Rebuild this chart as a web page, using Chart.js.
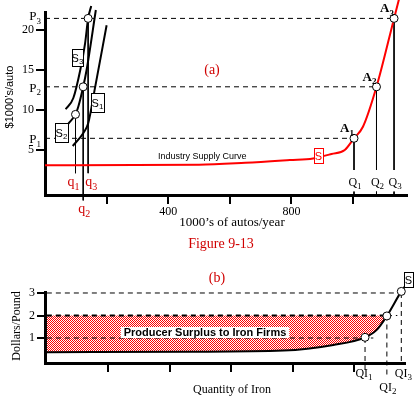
<!DOCTYPE html>
<html>
<head>
<meta charset="utf-8">
<script src="https://cdn.jsdelivr.net/npm/chart.js@4/dist/chart.umd.min.js"></script>
<style>
  html, body { margin: 0; padding: 0; background: #fff; }
  #wrap { position: relative; width: 417px; height: 399px; overflow: hidden; }
  canvas { position: absolute; left: 0; }
  #autos { top: 0; }
  #iron { top: 250px; }
</style>
</head>
<body>
<div id="wrap">
  <canvas id="autos" width="417" height="260"></canvas>
  <canvas id="iron" width="417" height="149"></canvas>
</div>
<script>
// (a) mercado de autos: curva de oferta de la industria y de la empresa
const industryQ = [0, 500, 650, 795, 870, 930, 973, 1003, 1032, 1076, 1133, 1150];
const industryP = [3.1, 3.15, 3.4, 3.75, 3.95, 4.5, 5.0, 6.46, 7.9, 12.9, 21.45, 24];
const firmS1Q = [90, 124, 140, 162, 200];
const firmS1P = [5.5, 7.1, 8.3, 12.7, 20.6];
const firmS2Q = [76, 99, 108, 124, 135, 165];
const firmS2P = [8.3, 9.45, 10.4, 12.9, 15, 22.5];
const firmS3Q = [67, 92, 115, 130, 140, 150];
const firmS3P = [10.1, 11.5, 15.1, 18.3, 21.45, 23.0];
const prices = [6.46, 12.9, 21.45];        // P1, P2, P3
const industryOut = [1003, 1076, 1133];    // Q1, Q2, Q3
const firmOut = [99, 124, 140];            // q1, q2, q3
const firmOutP = [9.45, 12.9, 21.45];
const autoTicks = [200, 400, 600, 800, 1000];
const autoTickLabels = ['', '400', '', '800', ''];
const priceTicks = [5, 10, 15, 20];

// (b) mercado del hierro
const ironQ = [0, 470, 770, 932, 1035, 1073, 1106, 1153, 1168];
const ironP = [0.37, 0.39, 0.44, 0.69, 1.03, 1.36, 1.98, 3.07, 3.36];
const ironPrices = [1, 2, 3];
const ironOut = [1035, 1106, 1153];        // QI1, QI2, QI3
const ironTicks = [200, 400, 600, 800, 1000];
const dollarTicks = [1, 2, 3];

const serif = '"Liberation Serif", "Times New Roman", serif';
const sans = '"Liberation Sans", Arial, sans-serif';
const RED = '#ff0000';
const TXT_RED = '#d00000';

const pts = (xs, ys) => xs.map((x, i) => ({ x: x, y: ys[i] }));

// segmentos sueltos separados por huecos (null)
function segs(list) {
  const out = [];
  list.forEach(s => out.push({ x: s[0], y: s[1] }, { x: s[2], y: s[3] }, { x: s[2], y: null }));
  return out;
}

function line(data, color, width, dash, order, smooth) {
  return {
    data: data, borderColor: color, borderWidth: width, borderDash: dash || [],
    pointRadius: 0, fill: false, clip: false, order: order, tension: 0,
    cubicInterpolationMode: smooth ? 'monotone' : 'default', spanGaps: false
  };
}

function dots(data) {
  return {
    data: data, showLine: false, pointRadius: 4, pointBorderWidth: 1,
    pointBackgroundColor: '#fff', pointBorderColor: '#000', clip: false, order: 0
  };
}

function axis(min, max, ticks, labels, size, horizontal, tickLen) {
  const o = {
    type: 'linear', min: min, max: max,
    afterBuildTicks: s => { s.ticks = ticks.map(v => ({ value: v })); },
    ticks: {
      autoSkip: false, maxRotation: 0, padding: horizontal ? 1 : 2, color: '#000',
      font: { family: serif, size: 12 },
      callback: (v, i) => labels[i]
    },
    grid: { drawOnChartArea: false, drawTicks: true, tickLength: tickLen, color: '#000', lineWidth: 2 },
    border: { display: true, color: '#000', width: 3 }
  };
  if (horizontal) o.afterFit = s => { s.height = size; };
  else o.afterFit = s => { s.width = size; };
  return o;
}

function subText(ctx, main, sub, x, base, size, color, family, bold, align) {
  const w = bold ? 'bold ' : '';
  const small = Math.round(size * 0.72);
  ctx.font = w + size + 'px ' + family;
  const w1 = ctx.measureText(main).width;
  ctx.font = w + small + 'px ' + family;
  const w2 = ctx.measureText(sub).width;
  const left = align === 'right' ? x - w1 - w2 : x - (w1 + w2) / 2;
  ctx.fillStyle = color;
  ctx.textAlign = 'left';
  ctx.textBaseline = 'alphabetic';
  ctx.font = w + size + 'px ' + family;
  ctx.fillText(main, left, base);
  ctx.font = w + small + 'px ' + family;
  ctx.fillText(sub, left + w1, base + size * 0.25);
}

function text(ctx, str, x, y, font, color, align) {
  ctx.font = font;
  ctx.fillStyle = color;
  ctx.textAlign = align || 'center';
  ctx.textBaseline = 'middle';
  ctx.fillText(str, x, y);
}

function labelBox(ctx, main, sub, cx, cy, w, h, color) {
  ctx.fillStyle = '#fff';
  ctx.fillRect(cx - w / 2, cy - h / 2, w, h);
  ctx.strokeStyle = color;
  ctx.lineWidth = 1;
  ctx.strokeRect(Math.round(cx - w / 2) + 0.5, Math.round(cy - h / 2) + 0.5, w, h);
  subText(ctx, main, sub, cx, cy + 4, 11, color, sans, false, 'center');
}

function vtext(ctx, str, x, y, font) {
  ctx.save();
  ctx.translate(x, y);
  ctx.rotate(-Math.PI / 2);
  text(ctx, str, 0, 0, font, '#000');
  ctx.restore();
}

// ---------- (a) ----------
const GUIDE_STOP = 2.5;       // las verticales de Q se cortan sobre la etiqueta
const firmStop = [2.1, -1.3, 2.1];

const priceLines = segs(prices.map((p, i) => [0, p, industryOut[i], p]));
const qLines = segs(industryOut.map((q, i) => [q, prices[i], q, GUIDE_STOP])
  .concat(industryOut.map(q => [q, -0.2, q, -0.625])));
const smallQLines = segs(firmOut.map((q, i) => [q, firmOutP[i], q, firmStop[i]]));

const autoNotes = {
  id: 'autoNotes',
  afterDatasetsDraw(chart) {
    const ctx = chart.ctx, xs = chart.scales.x, ys = chart.scales.y;
    ctx.save();
    prices.forEach((p, i) =>
      subText(ctx, 'P', String(i + 1), 41, ys.getPixelForValue(p) + (i === 2 ? 2 : 5), 13, '#000', serif, false, 'right'));
    industryOut.forEach((q, i) => {
      subText(ctx, 'A', String(i + 1), xs.getPixelForValue(q) - 7, ys.getPixelForValue(prices[i]) - 6, 13, '#000', serif, true, 'center');
      subText(ctx, 'Q', String(i + 1), xs.getPixelForValue(q) + 1, 186, 12, '#000', serif, false, 'center');
    });
    subText(ctx, 'q', '1', xs.getPixelForValue(firmOut[0]) - 2, 186, 14, TXT_RED, serif, false, 'center');
    subText(ctx, 'q', '2', xs.getPixelForValue(firmOut[1]) + 1, 213, 14, TXT_RED, serif, false, 'center');
    subText(ctx, 'q', '3', xs.getPixelForValue(firmOut[2]) + 3, 186, 14, TXT_RED, serif, false, 'center');

    labelBox(ctx, 'S', '3', 77.5, 57.5, 11, 17, '#000');
    labelBox(ctx, 'S', '1', 97.5, 102.5, 13, 19, '#000');
    labelBox(ctx, 'S', '2', 61.5, 132.5, 13, 19, '#000');
    labelBox(ctx, 'S', '', 318.5, 155.5, 9, 15, RED);

    text(ctx, 'Industry Supply Curve', 158, 157, '9px ' + sans, '#000', 'left');
    text(ctx, '(a)', 212, 70, '14px ' + serif, TXT_RED);
    vtext(ctx, '$1000’s/auto', 10, 97, '11px ' + sans);
    text(ctx, '1000’s of autos/year', 232, 223, '13px ' + serif, '#000');
    text(ctx, 'Figure 9-13', 221, 244, '14px ' + serif, TXT_RED);
    ctx.restore();
  }
};

new Chart(document.getElementById('autos'), {
  type: 'line',
  data: {
    datasets: [
      dots(pts(industryOut, prices).concat(pts(firmOut, firmOutP))),
      line(pts(industryQ, industryP), RED, 2, null, 2, true),
      line(pts(firmS1Q, firmS1P), '#000', 2, null, 2, true),
      line(pts(firmS2Q, firmS2P), '#000', 2, null, 2, true),
      line(pts(firmS3Q, firmS3P), '#000', 2, null, 2, true),
      line(priceLines, '#000', 1, [5, 4], 3),
      line(qLines, '#000', 1, null, 3),
      line(smallQLines, '#000', 1, null, 3)
    ]
  },
  options: {
    responsive: false, animation: false, events: [],
    layout: { padding: { top: 12, right: 10, left: 0, bottom: 0 } },
    plugins: { legend: { display: false }, tooltip: { enabled: false } },
    scales: {
      x: axis(0, 1175, autoTicks, autoTickLabels, 65, true, 9),
      y: axis(-0.625, 22.25, priceTicks, priceTicks.map(String), 45, false, 9)
    }
  },
  plugins: [autoNotes]
});

// ---------- (b) ----------
const ironCanvas = document.getElementById('iron');
const tile = document.createElement('canvas');
tile.width = 2; tile.height = 2;
const tctx = tile.getContext('2d');
tctx.fillStyle = '#fff'; tctx.fillRect(0, 0, 2, 2);
tctx.fillStyle = RED; tctx.fillRect(0, 0, 1, 1); tctx.fillRect(1, 1, 1, 1);
const checker = ironCanvas.getContext('2d').createPattern(tile, 'repeat');

const surplusQ = ironQ.filter(q => q <= ironOut[1]);
const surplus = line(pts(surplusQ, ironP.slice(0, surplusQ.length)), 'rgba(0,0,0,0)', 0, null, 5, true);
surplus.fill = { value: ironPrices[1] };
surplus.backgroundColor = checker;

const ironDashes = segs([
  [0, ironPrices[0], 1062, ironPrices[0]],
  [0, ironPrices[2], ironOut[2], ironPrices[2]],
  [ironOut[1], ironPrices[1], 1140, ironPrices[1]],
  [ironOut[0], ironPrices[0], ironOut[0], -0.42],
  [ironOut[1], ironPrices[1], ironOut[1], -0.73],
  [ironOut[2], ironPrices[2], ironOut[2], -0.1]
]);
const surplusTop = segs([[0, ironPrices[1], ironOut[1], ironPrices[1]]]);

const ironNotes = {
  id: 'ironNotes',
  afterDatasetsDraw(chart) {
    const ctx = chart.ctx, xs = chart.scales.x;
    ctx.save();
    const msg = 'Producer Surplus to Iron Firms';
    ctx.font = 'bold 11px ' + sans;
    const w = ctx.measureText(msg).width + 6;
    ctx.fillStyle = '#fff';
    ctx.fillRect(205 - w / 2, 77, w, 11);
    text(ctx, msg, 205, 82.5, 'bold 11px ' + sans, '#000');

    subText(ctx, 'QI', '1', xs.getPixelForValue(ironOut[0]) - 1, 127, 12, '#000', serif, false, 'center');
    subText(ctx, 'QI', '2', xs.getPixelForValue(ironOut[1]) + 1, 141, 12, '#000', serif, false, 'center');
    subText(ctx, 'QI', '3', xs.getPixelForValue(ironOut[2]) + 2, 127, 12, '#000', serif, false, 'center');
    labelBox(ctx, 'S', '', 408.5, 29.5, 9, 15, '#000');

    text(ctx, '(b)', 217, 28, '14px ' + serif, TXT_RED);
    vtext(ctx, 'Dollars/Pound', 17, 76, '12px ' + serif);
    text(ctx, 'Quantity of Iron', 232, 140, '12px ' + serif, '#000');
    ctx.restore();
  }
};

new Chart(ironCanvas, {
  type: 'line',
  data: {
    datasets: [
      dots(pts(ironOut, ironP.filter((p, i) => ironOut.includes(ironQ[i])))),
      line(pts(ironQ, ironP), '#000', 2, null, 2, true),
      line(surplusTop, '#000', 2, [5, 4], 3),
      line(ironDashes, '#000', 1, [5, 4], 3),
      surplus
    ]
  },
  options: {
    responsive: false, animation: false, events: [],
    layout: { padding: { top: 42, right: 12, left: 0, bottom: 0 } },
    plugins: { legend: { display: false }, tooltip: { enabled: false } },
    scales: {
      x: axis(-6, 1165, ironTicks, ironTicks.map(() => ''), 36, true, 9),
      y: axis(-0.11, 3.044, dollarTicks, dollarTicks.map(String), 45, false, 8)
    }
  },
  plugins: [ironNotes]
});
</script>
</body>
</html>
